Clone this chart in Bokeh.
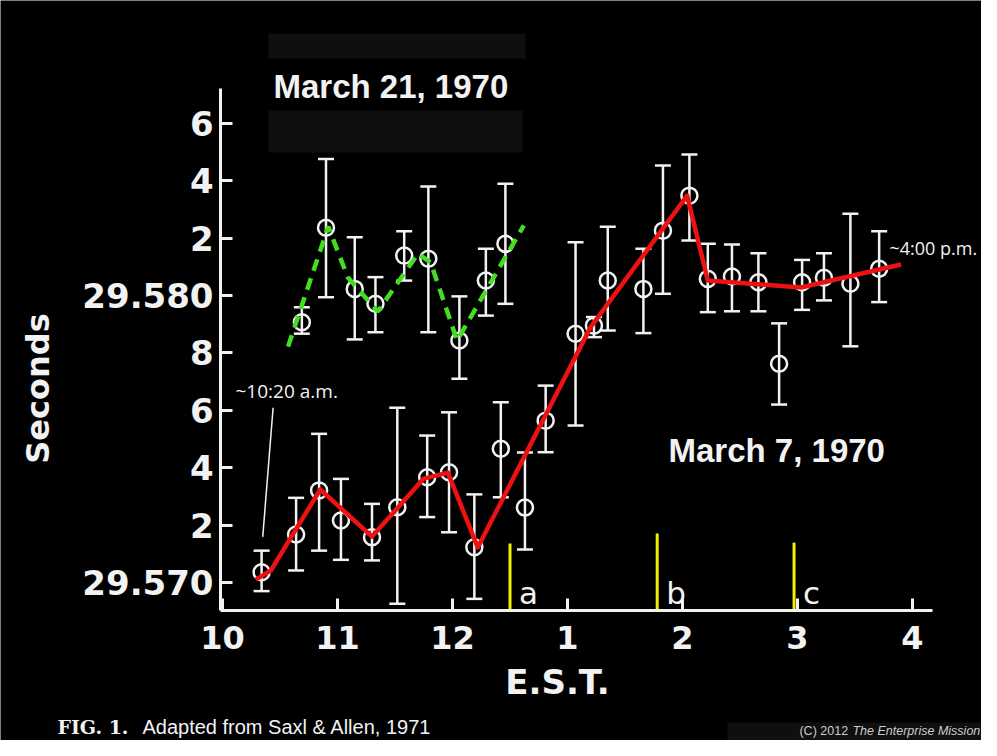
import math
from bokeh.plotting import figure
from bokeh.models import (Range1d, FixedTicker, Whisker, TeeHead, ColumnDataSource,
                          Label, BoxAnnotation)
from bokeh.core.properties import value
from bokeh.embed import file_html
from bokeh.resources import INLINE

# ---------------- data (hours E.S.T., 10 = 10 a.m., 13 = 1 p.m.) ----------------
# March 7, 1970 (period in seconds)
mar7_time = [10.34, 10.64, 10.84, 11.03, 11.30, 11.52, 11.78, 11.97, 12.19, 12.42, 12.63,
             12.81, 13.07, 13.23, 13.35, 13.66, 13.83, 14.06, 14.22, 14.43, 14.66, 14.84,
             15.04, 15.23, 15.46, 15.71]
mar7_value = [29.57036, 29.57167, 29.57321, 29.57216, 29.57158, 29.57262, 29.57367, 29.57384,
              29.57123, 29.57466, 29.57261, 29.57564, 29.57867, 29.57895, 29.58052, 29.58023,
              29.58226, 29.58348, 29.58058, 29.58066, 29.58046, 29.57762, 29.58046, 29.58062,
              29.58041, 29.58093]
mar7_upper = [29.57111, 29.57295, 29.57518, 29.57361, 29.57274, 29.57609, 29.57512, 29.57593,
              29.57307, 29.57628, 29.57453, 29.57686, 29.58186, 29.57925, 29.58240, 29.58163,
              29.58453, 29.58491, 29.58180, 29.58178, 29.58147, 29.57903, 29.58124, 29.58147,
              29.58285, 29.58224]
mar7_lower = [29.56970, 29.57042, 29.57111, 29.57079, 29.57077, 29.56926, 29.57228, 29.57175,
              29.56943, 29.57297, 29.57115, 29.57454, 29.57547, 29.57855, 29.57878, 29.57869,
              29.58006, 29.58192, 29.57942, 29.57945, 29.57945, 29.57620, 29.57950, 29.57983,
              29.57823, 29.57977]

# March 21, 1970
mar21_time = [10.69, 10.90, 11.15, 11.33, 11.58, 11.79, 12.06, 12.29, 12.46]
mar21_value = [29.57907, 29.58236, 29.58023, 29.57971, 29.58139, 29.58128, 29.57843, 29.58052, 29.58180]
mar21_upper = [29.57959, 29.58476, 29.58203, 29.58064, 29.58224, 29.58380, 29.57997, 29.58163, 29.58389]
mar21_lower = [29.57867, 29.57994, 29.57847, 29.57872, 29.58052, 29.57872, 29.57710, 29.57930, 29.57971]

# hand-drawn trend lines
mar7_trend_time = [10.29, 10.42, 10.85, 11.30, 11.75, 11.96, 12.22, 13.20, 14.04, 14.22, 15.03, 15.90]
mar7_trend_value = [29.57010, 29.57042, 29.57324, 29.57160, 29.57362, 29.57383, 29.57122,
                    29.57889, 29.58348, 29.58052, 29.58028, 29.58108]
mar21_trend_time = [10.57, 10.92, 11.09, 11.35, 11.70, 11.81, 12.04, 12.62]
mar21_trend_value = [29.57822, 29.58240, 29.58063, 29.57944, 29.58146, 29.58115, 29.57843, 29.58244]

# event markers a, b, c
event_time = [12.50, 13.78, 14.97]
event_top = [29.57136, 29.57171, 29.57139]
event_label = ["a", "b", "c"]

# axis ticks
x_ticks = [10, 11, 12, 13, 14, 15, 16]
x_tick_labels = ["10", "11", "12", "1", "2", "3", "4"]
y_ticks = [29.570, 29.572, 29.574, 29.576, 29.578, 29.580, 29.582, 29.584, 29.586]
y_tick_labels = ["29.570", "2", "4", "6", "8", "29.580", "2", "4", "6"]

# ---------------- figure ----------------
WHITE = "#f2f2f2"
X_AXIS_SPAN = (9.983, 16.174)        # extent of the drawn time axis
Y_AXIS_SPAN = (29.569024, 29.587213)  # extent of the drawn seconds axis
X_VIEW = (8.0696, 16.6)               # whole canvas
Y_VIEW = (29.564495, 29.590279)

p = figure(width=981, height=740, output_backend="svg", toolbar_location=None,
           x_range=Range1d(*X_VIEW), y_range=Range1d(*Y_VIEW),
           background_fill_color="black", border_fill_color="black")
p.min_border_left = 0
p.min_border_right = 0
p.min_border_top = 0
p.min_border_bottom = 0
p.outline_line_color = None
p.grid.visible = False

for ax in (p.xaxis[0], p.yaxis[0]):
    ax.axis_line_color = WHITE
    ax.axis_line_width = 3
    ax.major_tick_line_color = WHITE
    ax.major_tick_line_width = 3
    ax.minor_tick_line_color = None
    ax.major_tick_out = 0
    ax.major_tick_in = 12
    ax.major_label_text_color = WHITE
    ax.major_label_text_font = "DejaVu Sans"
    ax.major_label_text_font_style = "bold"

xa, ya = p.xaxis[0], p.yaxis[0]
xa.fixed_location = Y_AXIS_SPAN[0]
xa.bounds = X_AXIS_SPAN
xa.ticker = FixedTicker(ticks=x_ticks)
xa.major_label_overrides = {t: l for t, l in zip(x_ticks, x_tick_labels)}
xa.major_label_standoff = 15
xa.major_label_text_font_size = "32px"
ya.fixed_location = X_AXIS_SPAN[0]
ya.bounds = Y_AXIS_SPAN
ya.ticker = FixedTicker(ticks=y_ticks)
ya.major_label_overrides = {t: l for t, l in zip(y_ticks, y_tick_labels)}
ya.major_label_standoff = 7
ya.major_label_text_font_size = "34px"

# dark boxes behind the title and the credit
for l, r, b, t in [(10.40, 12.635, 29.58826, 29.58913), (10.40, 12.609, 29.58498, 29.58645),
                   (14.391, 16.6, 29.564495, 29.56512)]:
    p.add_layout(BoxAnnotation(left=l, right=r, bottom=b, top=t, fill_color="#0f0f0f",
                               fill_alpha=1, line_color=None, level="underlay"))

# error bars and points
src7 = ColumnDataSource(dict(t=mar7_time, v=mar7_value, up=mar7_upper, lo=mar7_lower))
src21 = ColumnDataSource(dict(t=mar21_time, v=mar21_value, up=mar21_upper, lo=mar21_lower))
for src in (src7, src21):
    w = Whisker(source=src, base="t", upper="up", lower="lo", dimension="height",
                line_color=WHITE, line_width=2.5,
                upper_head=TeeHead(size=16, line_color=WHITE, line_width=2.5),
                lower_head=TeeHead(size=16, line_color=WHITE, line_width=2.5))
    p.add_layout(w)
    p.scatter("t", "v", source=src, marker="circle", size=16, fill_color=None,
              line_color=WHITE, line_width=2.5)

# event markers
p.segment(x0=event_time, y0=[Y_AXIS_SPAN[0]] * 3, x1=event_time, y1=event_top,
          line_color="#f2ee00", line_width=3)
p.text(x=event_time, y=[29.56962] * 3, text=event_label, x_offset=9,
       text_color=WHITE, text_font=value("DejaVu Sans"), text_font_size="31px",
       text_baseline="alphabetic", text_align="left")

# trend lines
p.line(mar7_trend_time, mar7_trend_value, line_color="#ee1111", line_width=4.5,
       line_join="round")
p.line(mar21_trend_time, mar21_trend_value, line_color="#44dd22", line_width=4.5,
       line_dash="12 8")

# pointer for first point
p.segment(x0=[10.44], y0=[29.57609], x1=[10.35], y1=[29.57159], line_color=WHITE, line_width=1.5)

def lab(text, x, y, size, **kw):
    opts = dict(text_color=WHITE, text_font="Liberation Sans", text_baseline="middle",
                text_align="left")
    opts.update(kw)
    p.add_layout(Label(x=x, y=y, text=text, text_font_size=size, **opts))

lab("March 21, 1970", 10.443, 29.58728, "33px", text_font_style="bold")
lab("March 7, 1970", 13.878, 29.57460, "33px", text_font_style="bold")
lab("~10:20 a.m.", 10.113, 29.57666, "19px", text_font="Open Sans")
lab("~4:00 p.m.", 15.800, 29.58164, "18px", text_font="Open Sans")
lab("Seconds", 8.40, 29.57676, "32px", text_font="DejaVu Sans", text_font_style="bold",
    text_align="center", angle=math.pi / 2)
lab("E.S.T.", 12.913, 29.56655, "34px", text_font="DejaVu Sans", text_font_style="bold",
    text_align="center")
lab("FIG. 1.", 8.565, 29.56498, "19px", text_font="DejaVu Serif", text_font_style="bold")
lab("Adapted from Saxl & Allen, 1971", 9.304, 29.56498, "20px")
lab("(C) 2012", 15.017, 29.56481, "12.5px", text_color="#cccccc")
lab("The Enterprise Mission", 15.478, 29.56481, "12.5px", text_color="#cccccc",
    text_font_style="italic")

open("out.html", "w").write(file_html(p, INLINE))
